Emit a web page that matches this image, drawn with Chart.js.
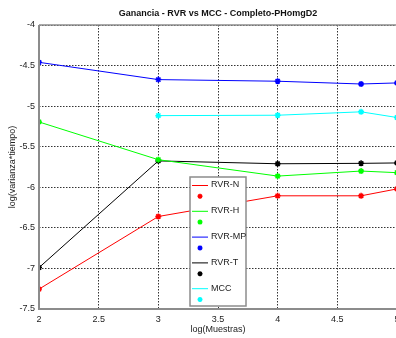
<!DOCTYPE html>
<html>
<head>
<meta charset="utf-8">
<script src="https://cdn.jsdelivr.net/npm/chart.js@4/dist/chart.umd.min.js"></script>
<style>
  html, body { margin: 0; padding: 0; overflow: hidden; background: #fff; }
  #wrap { width: 420px; height: 338px; }
</style>
</head>
<body>
<div id="wrap"><canvas id="c"></canvas></div>
<script>
// log10 of sample counts: 100, 1000, 10000, 50000, 100000
const logMuestras = [2, 3, 4, 4.699, 5];

const rvrN  = [-7.255, -6.36, -6.105, -6.105, -6.02];
const rvrH  = [-5.195, -5.66, -5.862, -5.80, -5.82];
const rvrMP = [-4.46, -4.673, -4.693, -4.727, -4.714];
const rvrT  = [-6.99, -5.675, -5.71, -5.705, -5.70];
const mcc   = [null, -5.117, -5.112, -5.07, -5.14];

const seriesNames  = ['RVR-N', 'RVR-H', 'RVR-MP', 'RVR-T', 'MCC'];
const seriesColors = ['#ff0000', '#00ff00', '#0000ff', '#000000', '#00ffff'];
const seriesValues = [rvrN, rvrH, rvrMP, rvrT, mcc];

const FONT = '"Liberation Sans", Arial, sans-serif';

const datasets = seriesNames.map((name, i) => ({
  label: name,
  data: logMuestras.map((x, j) => ({ x: x, y: seriesValues[i][j] })),
  borderColor: seriesColors[i],
  backgroundColor: seriesColors[i],
  borderWidth: 1,
  pointStyle: 'star',
  pointRadius: 3,
  pointBorderWidth: 1.5,
  spanGaps: false,
  tension: 0
}));

// plain labels: "2", "2.5", "-4", "-4.5"
const tickText = v => String(Math.round(v * 10) / 10);

function drawStar(ctx, x, y, r, color) {
  ctx.save();
  ctx.strokeStyle = color;
  ctx.lineWidth = 1.5;
  ctx.beginPath();
  for (let k = 0; k < 4; k++) {
    const a = k * Math.PI / 4;
    ctx.moveTo(x - r * Math.cos(a), y - r * Math.sin(a));
    ctx.lineTo(x + r * Math.cos(a), y + r * Math.sin(a));
  }
  ctx.stroke();
  ctx.restore();
}

const decorations = {
  id: 'decorations',
  afterDraw(chart) {
    const ctx = chart.ctx;
    const a = chart.chartArea;
    ctx.save();

    // box: top edge, then left and bottom axes
    ctx.strokeStyle = '#8c8c8c';
    ctx.lineWidth = 1.5;
    ctx.beginPath();
    ctx.moveTo(a.left, a.top);
    ctx.lineTo(a.right, a.top);
    ctx.stroke();
    ctx.lineWidth = 2;
    ctx.beginPath();
    ctx.moveTo(a.left, a.top);
    ctx.lineTo(a.left, a.bottom);
    ctx.lineTo(a.right, a.bottom);
    ctx.stroke();

    // title and axis labels
    ctx.fillStyle = '#111';
    ctx.textAlign = 'center';
    ctx.textBaseline = 'middle';
    ctx.font = 'bold 9px ' + FONT;
    ctx.fillText('Ganancia - RVR vs MCC - Completo-PHomgD2', 218, 14);
    ctx.font = '9px ' + FONT;
    ctx.fillStyle = '#222';
    ctx.fillText('log(Muestras)', 218, 330);
    ctx.save();
    ctx.translate(13, (a.top + a.bottom) / 2);
    ctx.rotate(-Math.PI / 2);
    ctx.fillText('log(varianza*tiempo)', 0, 0);
    ctx.restore();

    // legend: line sample + name, marker on the row below
    const lx = 190, ly = 177, lw = 56, lh = 129;
    ctx.fillStyle = '#fff';
    ctx.fillRect(lx, ly, lw, lh);
    ctx.strokeStyle = '#8c8c8c';
    ctx.lineWidth = 1.5;
    ctx.strokeRect(lx, ly, lw, lh);
    ctx.textAlign = 'left';
    seriesNames.forEach((name, i) => {
      const ty = 185 + i * 25.8;
      ctx.strokeStyle = seriesColors[i];
      ctx.lineWidth = 1;
      ctx.beginPath();
      ctx.moveTo(192, ty + 0.5);
      ctx.lineTo(208, ty + 0.5);
      ctx.stroke();
      ctx.fillStyle = '#222';
      ctx.fillText(name, 211, ty);
      drawStar(ctx, 200, ty + 11.3, 2.5, seriesColors[i]);
    });
    ctx.restore();
  }
};

new Chart(document.getElementById('c'), {
  type: 'line',
  data: { datasets: datasets },
  options: {
    responsive: true,
    maintainAspectRatio: false,
    animation: false,
    layout: { padding: { left: 0, right: 23, top: 25, bottom: 0 } },
    plugins: {
      legend: { display: false },
      title: { display: false },
      tooltip: { enabled: false }
    },
    scales: {
      x: {
        type: 'linear',
        min: 2,
        max: 5,
        afterFit: s => { s.height = 29; },
        ticks: {
          stepSize: 0.5,
          padding: 5,
          color: '#222',
          font: { family: FONT, size: 9 },
          callback: tickText
        },
        grid: { color: '#333', lineWidth: 1, drawTicks: false },
        border: { display: false, dash: [1.5, 1.5] }
      },
      y: {
        min: -7.5,
        max: -4,
        afterFit: s => { s.width = 39; },
        ticks: {
          stepSize: 0.5,
          padding: 4,
          color: '#222',
          font: { family: FONT, size: 9 },
          callback: tickText
        },
        grid: { color: '#333', lineWidth: 1, drawTicks: false },
        border: { display: false, dash: [1.5, 1.5] }
      }
    }
  },
  plugins: [decorations]
});
</script>
</body>
</html>
